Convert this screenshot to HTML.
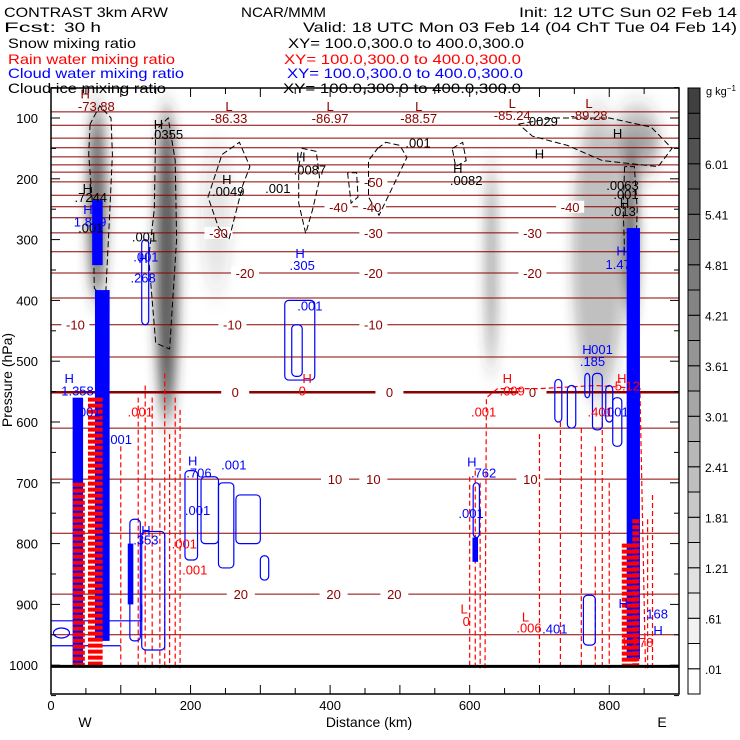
<!DOCTYPE html>
<html><head><meta charset="utf-8"><title>CONTRAST cross section</title>
<style>
html,body{margin:0;padding:0;background:#fff;}
svg{display:block;font-family:"Liberation Sans",sans-serif;}
</style></head>
<body>
<svg id="chart" width="740" height="740" viewBox="0 0 740 740" xmlns="http://www.w3.org/2000/svg">
<defs>
  <filter id="blur6" x="-100%" y="-50%" width="300%" height="200%"><feGaussianBlur stdDeviation="6 14"/></filter>
  <clipPath id="plotclip"><rect x="51" y="88" width="628" height="606"/></clipPath>
</defs>
<g font-size="14" fill="#000">
  <text x="4" y="17" textLength="164" lengthAdjust="spacingAndGlyphs">CONTRAST  3km ARW</text>
  <text x="241" y="17" textLength="85" lengthAdjust="spacingAndGlyphs">NCAR/MMM</text>
  <text x="519" y="17" textLength="218" lengthAdjust="spacingAndGlyphs">Init: 12 UTC Sun 02 Feb 14</text>
  <text x="4" y="32" textLength="52" lengthAdjust="spacingAndGlyphs">Fcst:</text>
  <text x="64" y="32" textLength="37" lengthAdjust="spacingAndGlyphs">30 h</text>
  <text x="303" y="32" textLength="434" lengthAdjust="spacingAndGlyphs">Valid: 18 UTC Mon 03 Feb 14 (04 ChT Tue 04 Feb 14)</text>
  <text x="8" y="48" textLength="128" lengthAdjust="spacingAndGlyphs">Snow mixing ratio</text>
  <text x="288" y="48" textLength="236" lengthAdjust="spacingAndGlyphs">XY= 100.0,300.0 to 400.0,300.0</text>
  <text x="8" y="64" fill="#ff0000" textLength="167" lengthAdjust="spacingAndGlyphs">Rain water mixing ratio</text>
  <text x="284" y="64" fill="#ff0000" textLength="237" lengthAdjust="spacingAndGlyphs">XY= 100.0,300.0 to 400.0,300.0</text>
  <text x="8" y="78" fill="#0000ff" textLength="176" lengthAdjust="spacingAndGlyphs">Cloud water mixing ratio</text>
  <text x="287" y="78" fill="#0000ff" textLength="236" lengthAdjust="spacingAndGlyphs">XY= 100.0,300.0 to 400.0,300.0</text>
  <text x="8" y="93" textLength="158" lengthAdjust="spacingAndGlyphs">Cloud ice mixing ratio</text>
  <text x="283" y="93" textLength="238" lengthAdjust="spacingAndGlyphs">XY= 100.0,300.0 to 400.0,300.0</text>
</g>
<g id="plot" clip-path="url(#plotclip)"></g>
<g id="axes"></g>
<g id="cbar"></g>
</svg>
<script>
// ---- data arrays ----
const pressureTicks = [100,200,300,400,500,600,700,800,900,1000];
const distanceTicks = [0,200,400,600,800];
const cbarLabels = [".01",".61","1.21","1.81","2.41","3.01","3.61","4.21","4.81","5.41","6.01"];
const cbarBoxes = 24;
// isotherms (deg C) and their mean pressure (hPa)
const isoLevels   = [25,20,15,10,5,0,-5,-10,-15,-20,-25,-30,-35,-40,-45,-50,-55,-60,-65,-70,-75,-80,-85];
const isoPressure = [950,883,783,694,610,551,493,440,396,355,320,289,264,246,227,205,189,177,164,149,133,112,90];
// isotherm labels: level, km, hPa
const isoLabelLevel = [-50,-40,-40,-40,-30,-30,-30,-20,-20,-20,-10,-10,-10,0,0,0,10,10,10,20,20,20];
const isoLabelKm    = [462,412,460,744,240,462,690,278,462,690,35,260,462,264,485,690,407,462,687,272,405,492];
const isoLabelP     = [205,246,246,246,289,289,289,355,355,355,440,440,440,551,551,551,694,694,694,883,883,883];
// snow (grey shading) cores: km, top hPa, bottom hPa, width km, intensity
const snowKm    = [66,166,237,631,784,831,840];
const snowTop   = [80,85,145,175,90,150,90];
const snowBot   = [400,600,385,515,560,430,190];
const snowWidth = [26,32,45,16,75,18,65];
const snowInt   = [0.75,0.8,0.12,0.45,0.3,0.8,0.45];
// cloud water dense columns (blue): kmL, kmR, top, bottom
const cwL   = [59,63,31,825,604,34,110];
const cwR   = [74,84,46,844,612,40,118];
const cwTop = [235,383,560,281,790,600,800];
const cwBot = [342,960,1000,990,830,1000,900];
// rain dense columns (red, striped): km, top, bottom, width km
const rwKm  = [40,60,70,829,838];
const rwTop = [700,560,560,800,760];
const rwBot = [1000,1000,1000,1000,1000];
const rwW   = [17,14,8,22,10];
// rain thin dashed verticals: km, top hPa
const rdKm  = [125,135,145,156,163,170,178,185,100,600,608,615,700,730,760,780,790,800,855,862];
const rdTop = [560,540,560,700,520,620,560,580,640,690,680,700,620,600,610,640,600,700,760,720];
// cloud water outline blobs: km1, km2, p1, p2
const blobK1 = [335,345,192,215,240,265,113,130,722,740,765,776,795,763,130,300,605,805];
const blobK2 = [378,360,210,240,262,300,128,163,732,752,772,790,805,780,140,312,614,818];
const blobP1 = [400,440,680,690,700,720,760,780,530,540,520,520,540,885,300,820,700,560];
const blobP2 = [531,525,827,800,840,800,960,975,600,610,560,613,600,967,440,860,790,640];
// cloud ice dashed contour outlines (km,hPa pairs)
const iceOutlines = [
 [[56,110],[54,160],[60,250],[62,380],[78,400],[84,260],[88,160],[86,100],[70,80],[56,110]],
 [[150,120],[148,250],[140,330],[150,470],[170,480],[180,300],[178,170],[168,100],[150,120]],
 [[225,230],[245,160],[270,140],[285,180],[275,210],[255,300],[240,280],[225,230]],
 [[355,180],[360,150],[380,155],[385,200],[375,250],[365,290],[355,240],[355,180]],
 [[425,190],[430,240],[440,230],[438,190],[425,190]],
 [[468,150],[480,140],[500,145],[510,165],[470,260],[455,230],[455,170],[468,150]],
 [[575,150],[590,140],[595,170],[580,180],[575,150]],
 [[670,110],[720,100],[800,100],[860,115],[890,150],[870,180],[830,175],[790,170],[740,145],[690,130],[670,110]],
 [[822,180],[820,250],[822,320],[838,320],[840,250],[836,180],[822,180]]
];
// annotation labels: text, km, hPa, color
const annText = ["H","-73.88","L","-86.33","L","-86.97","L","-88.57","L","-85.24","L","-89.28",
 "H",".0355","H",".0049","H",".0087",".001","H",".0082",".001","H",".0029","H",".0063",".001","H",".013",
 "H",".7244",".001","H","1.829",".001",".001","H",".268","H",".305",".001","H","1.471",
 "H","1.358",".001",".001",".001","H",".706",".001",".001","H",".353",".001",".001",
 "H","0","H",".099",".001","H",".762",".001","L","0","L",".006","H",".185",".401","H","5.12",".0014","H",".168","H","1.278",".401",".001",".001"];
const annKm = [49,65,255,255,400,400,527,527,661,661,771,771,
 154,166,252,254,358,371,325,583,595,526,700,703,812,819,824,822,820,
 52,57,57,53,56,134,136,132,132,357,360,371,817,818,
 26,38,53,128,98,203,212,262,210,136,136,191,206,
 367,360,654,661,620,603,620,602,592,595,680,685,768,776,787,818,826,815,820,866,870,840,722,787];
const annP = [60,80,80,100,80,100,80,100,75,95,75,95,
 110,126,200,220,163,185,215,182,202,140,158,105,125,210,225,240,253,
 215,230,280,250,270,295,328,330,362,322,342,408,318,340,
 528,548,583,583,628,663,683,670,745,778,793,800,843,
 528,548,528,548,583,665,683,750,907,927,920,938,480,500,583,528,540,583,898,915,942,962,940,480];
const annColor = ["dr","dr","dr","dr","dr","dr","dr","dr","dr","dr","dr","dr",
 "k","k","k","k","k","k","k","k","k","k","k","k","k","k","k","k","k",
 "k","k","k","b","b","k","b","b","b","b","b","b","b","b",
 "b","b","b","r","b","b","b","b","b","b","b","r","r",
 "r","r","r","r","r","b","b","b","r","r","r","r","b","b","r","r","r","b","b","b","b","r","b","b"];

// ---- scales ----
const X = km => 51 + km*0.6978;
const Y = p => 118 + (p-100)*0.608;
const NS = "http://www.w3.org/2000/svg";
function mk(tag, attrs, parent){ const e=document.createElementNS(NS,tag); for(const k in attrs) e.setAttribute(k,attrs[k]); parent.appendChild(e); return e; }
const plot = document.getElementById('plot');
const axes = document.getElementById('axes');
const cbar = document.getElementById('cbar');
const colors = {dr:"#8b0000", k:"#000", b:"#0000ff", r:"#ff0000"};

// snow shading
const snowG = mk('g',{filter:'url(#blur6)'},plot);


for(let i=0;i<snowKm.length;i++){
  const y1=Y(snowTop[i]), y2=Y(snowBot[i]);
  const e = mk('ellipse',{cx:X(snowKm[i]),cy:(y1+y2)/2,rx:snowWidth[i]*0.6978/2,ry:(y2-y1)/2,fill:'#303030','fill-opacity':snowInt[i]},snowG);
  
  
}
// isotherms
for(let i=0;i<isoLevels.length;i++){
  const y=Y(isoPressure[i]);
  const l = mk('line',{x1:51,x2:679,y1:y,y2:y,stroke:'#8b0000','stroke-width':isoLevels[i]===0?2.5:1},plot);
  
  
}
for(let i=0;i<isoLabelLevel.length;i++){
  const x=X(isoLabelKm[i]), y=Y(isoLabelP[i]);
  const bg = mk('rect',{x:x-14,y:y-6,width:28,height:12,fill:'#fff'},plot);
  
  
  const t = mk('text',{x:x,y:y+5,'text-anchor':'middle','font-size':13,fill:'#8b0000'},plot);
  t.textContent=String(isoLabelLevel[i]);
  
  
}
// cloud ice outlines
for(const o of iceOutlines){
  const d = o.map((pt,j)=>(j?'L':'M')+X(pt[0]).toFixed(1)+','+Y(pt[1]).toFixed(1)).join(' ');
  const p = mk('path',{d:d,fill:'none',stroke:'#000','stroke-width':1,'stroke-dasharray':'6 3'},plot);
  
  
}
// rain dashed thin lines
for(let i=0;i<rdKm.length;i++){
  const l = mk('line',{x1:X(rdKm[i]),x2:X(rdKm[i]),y1:Y(rdTop[i]),y2:Y(1005),stroke:'#ff0000','stroke-width':1.2,'stroke-dasharray':'5 3'},plot);
  
  
}
// rain big dashed region
{
  const pts=[[622,1005],[624,560],[640,545],[700,545],[780,540],[844,545],[852,1005]];
  const d=pts.map((pt,j)=>(j?'L':'M')+X(pt[0]).toFixed(1)+','+Y(pt[1]).toFixed(1)).join(' ');
  const p=mk('path',{d:d,fill:'none',stroke:'#ff0000','stroke-width':1.2,'stroke-dasharray':'5 3'},plot);
  
  
}
// cloud water blobs
for(let i=0;i<blobK1.length;i++){
  const r = mk('rect',{x:X(blobK1[i]),y:Y(blobP1[i]),width:X(blobK2[i])-X(blobK1[i]),height:Y(blobP2[i])-Y(blobP1[i]),rx:4,fill:'none',stroke:'#0000ff','stroke-width':1.2},plot);
  
  
}
// horizontal cloud-water lines near surface
{
  const l1=mk('polyline',{points:`51,${Y(927)} ${X(130)},${Y(927)} ${X(130)},${Y(900)}`,fill:'none',stroke:'#0000ff','stroke-width':1.2},plot);
  
  
  const l2=mk('line',{x1:51,x2:X(100),y1:Y(968),y2:Y(968),stroke:'#0000ff','stroke-width':1.2},plot);
  
  
  const c=mk('ellipse',{cx:X(15),cy:Y(947),rx:8,ry:5,fill:'none',stroke:'#0000ff','stroke-width':1.2},plot);
  
  
}
// dense cloud water columns
for(let i=0;i<cwL.length;i++){
  const r=mk('rect',{x:X(cwL[i]),y:Y(cwTop[i]),width:X(cwR[i])-X(cwL[i]),height:Y(cwBot[i])-Y(cwTop[i]),fill:'#0000ff'},plot);
  
  
}
// dense rain columns (striped)
for(let i=0;i<rwKm.length;i++){
  const l=mk('line',{x1:X(rwKm[i]),x2:X(rwKm[i]),y1:Y(rwTop[i]),y2:Y(rwBot[i]),stroke:'#ff0000','stroke-width':rwW[i]*0.6978,'stroke-dasharray':'4 2'},plot);
  
  
}
// annotations
for(let i=0;i<annText.length;i++){
  const t=mk('text',{x:X(annKm[i]),y:Y(annP[i])+5,'text-anchor':'middle','font-size':13,fill:colors[annColor[i]]},plot);
  t.textContent=annText[i];
  
  
}
// ground line
{
  const g=mk('line',{x1:51,x2:679,y1:Y(1002),y2:Y(1002),stroke:'#000','stroke-width':3},plot);
  
  
}

// axes frame
{
  const f=mk('rect',{x:51,y:88,width:628,height:606,fill:'none',stroke:'#000','stroke-width':1.5},axes);
  
  
}
for(let p=50;p<=1050;p+=50){
  const y=Y(p); const len=(p%100===0)?9:5;
  const a=mk('line',{x1:51,x2:51+len,y1:y,y2:y,stroke:'#000'},axes);
  
  
  const b=mk('line',{x1:679-len,x2:679,y1:y,y2:y,stroke:'#000'},axes);
  
  
}
for(const p of pressureTicks){
  const t=mk('text',{x:38,y:Y(p)+5,'text-anchor':'end','font-size':13},axes);
  t.textContent=String(p);
  
  
}
for(let km=0;km<=900;km+=50){
  const x=X(km); const len=(km%100===0)?9:6;
  const a=mk('line',{x1:x,x2:x,y1:694-len,y2:694,stroke:'#000'},axes);
  
  
  const b=mk('line',{x1:x,x2:x,y1:88,y2:88+len,stroke:'#000'},axes);
  
  
}
for(const km of distanceTicks){
  const t=mk('text',{x:X(km),y:710,'text-anchor':'middle','font-size':13},axes);
  t.textContent=String(km);
  
  
}
{
  const t=mk('text',{x:369,y:727,'text-anchor':'middle','font-size':14},axes); t.textContent='Distance (km)';
   
  const w=mk('text',{x:85,y:727,'text-anchor':'middle','font-size':14},axes); w.textContent='W';
   
  const e=mk('text',{x:662,y:727,'text-anchor':'middle','font-size':14},axes); e.textContent='E';
   
  const yt=mk('text',{x:0,y:0,'text-anchor':'middle','font-size':14,transform:'translate(12,380) rotate(-90)'},axes); yt.textContent='Pressure (hPa)';
   
}
// colorbar
{
  const top=88, bot=694, h=(bot-top)/cbarBoxes;
  for(let i=0;i<cbarBoxes;i++){
    let g = i<2 ? 255 : Math.round(242-(i-2)*(178/21));
    const y=bot-(i+1)*h;
    const r=mk('rect',{x:688,y:y,width:12,height:h,fill:`rgb(${g},${g},${g})`,stroke:'#000','stroke-width':1},cbar);
    
    
  }
  for(let k=0;k<cbarLabels.length;k++){
    const y=bot-h-k*2*h;
    const t=mk('text',{x:705,y:y+5,'font-size':12},cbar);
    t.textContent=cbarLabels[k];
    
    
  }
  const u=mk('text',{x:706,y:95,'font-size':11},cbar);
  u.innerHTML='g kg<tspan dy="-4" font-size="8">−1</tspan>';
  
  
}
</script>
</body></html>
